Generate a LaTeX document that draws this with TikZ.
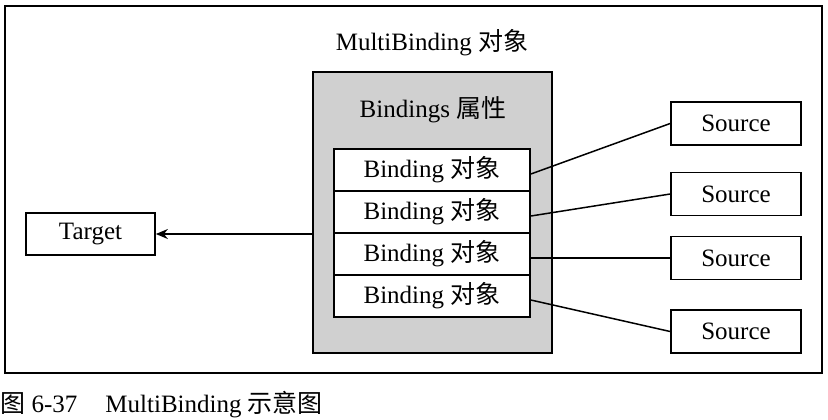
\documentclass[tikz,border=0pt]{standalone}
\usepackage{fontspec}
\setmainfont{Liberation Serif}
\newfontfamily\cjk{Noto Sans CJK SC}
\usepackage{xcolor}
\usepackage{tikz}
\usetikzlibrary{arrows.meta,positioning}
\definecolor{propgray}{RGB}{208,208,208}
\newcommand{\zh}[1]{{\cjk #1}}
\newcommand{\figsize}{\fontsize{12.5}{15}\selectfont}

\begin{document}
\begin{tikzpicture}[
    x=0.5pt,y=-0.5pt,
    every node/.style={font=\figsize},
    box/.style={draw,line width=0.85pt,fill=white,inner sep=0pt},
    bindrow/.style={box,minimum width=98pt,minimum height=21pt},
    srcbox/.style={box,minimum width=65pt,minimum height=21.5pt},
    link/.style={line width=0.75pt},
    >={Stealth[length=6pt,width=5pt]}
]
\useasboundingbox (0,0) rectangle (828,419);
% outer frame
\node[draw,line width=0.8pt,minimum width=408.5pt,minimum height=183.5pt,inner sep=0pt] (frame) at (413.5,189.5) {};
\node (title) at (432,43) {MultiBinding \zh{对象}};
% Bindings property
\node[draw,line width=0.9pt,fill=propgray,minimum width=119.5pt,minimum height=140.5pt,inner sep=0pt] (props) at (432.5,212.5) {};
\node (proplabel) at (433,110) {Bindings \zh{属性}};
\node[bindrow] (b1) at (432,170) {Binding \zh{对象}};
\node[bindrow] (b2) at (432,212) {Binding \zh{对象}};
\node[bindrow] (b3) at (432,254) {Binding \zh{对象}};
\node[bindrow] (b4) at (432,296) {Binding \zh{对象}};
% target and sources
\node[box,minimum width=64.5pt,minimum height=21pt] (target) at (90.5,234) {Target};
\node[srcbox] (s1) at (736,123.5) {Source};
\node[srcbox] (s2) at (736,194) {Source};
\node[srcbox] (s3) at (736,258) {Source};
\node[srcbox] (s4) at (736,331.5) {Source};
\draw[->,link] (target -| props.west) -- (target.east);
\draw[link] ([yshift=-2pt]b1.east) -- (s1.west);
\draw[link] ([yshift=-2pt]b2.east) -- (s2.west);
\draw[link] ([yshift=-2pt]b3.east) -- (s3.west);
\draw[link] ([yshift=-2pt]b4.east) -- (s4.west);
% caption
\node[anchor=west,inner sep=0pt] (caption) at (0,405) {\zh{图} 6-37\hspace{14pt}MultiBinding \zh{示意图}};
\end{tikzpicture}
\end{document}
